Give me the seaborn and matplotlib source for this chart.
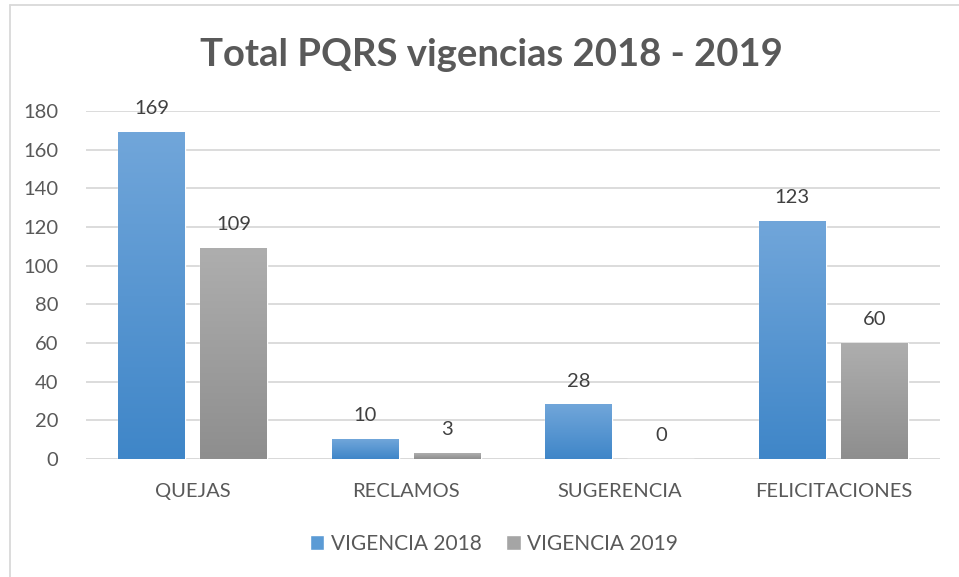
import numpy as np
import pandas as pd
import seaborn as sns
import matplotlib.pyplot as plt
from matplotlib.colors import LinearSegmentedColormap
from matplotlib.patches import Rectangle

categories = ["QUEJAS", "RECLAMOS", "SUGERENCIA", "FELICITACIONES"]
series = ["VIGENCIA 2018", "VIGENCIA 2019"]
values_2018 = [169, 10, 28, 123]
values_2019 = [109, 3, 0, 60]
yticks = [0, 20, 40, 60, 80, 100, 120, 140, 160, 180]

df = pd.DataFrame({
    "categoria": categories * 2,
    "vigencia": [series[0]] * 4 + [series[1]] * 4,
    "valor": values_2018 + values_2019,
})

sns.set_theme(style="white")
plt.rcParams['font.family'] = ['Lato', 'DejaVu Sans']
text_color = "#595959"

palette = {series[0]: "#5B9BD5", series[1]: "#A5A5A5"}
gradients = {
    series[0]: ("#3F86C8", "#71A6DA"),
    series[1]: ("#8E8E8E", "#AEAEAE"),
}

fig = plt.figure(figsize=(9.59, 5.77), dpi=100)
ax = fig.add_axes([0.0897, 0.2045, 0.8905, 0.6031])

sns.barplot(data=df, x="categoria", y="valor", hue="vigencia", order=categories,
            hue_order=series, palette=palette, width=0.768, gap=0.185,
            legend=False, ax=ax, zorder=3)

# gradient fill on each bar (Excel style)
grad = np.linspace(0, 1, 256).reshape(-1, 1)
for cont, name in zip(ax.containers, series):
    cmap = LinearSegmentedColormap.from_list(name, list(gradients[name]))
    for bar in cont:
        x0, y0 = bar.get_x(), bar.get_y()
        w, h = bar.get_width(), bar.get_height()
        if h <= 0:
            continue
        # soft shadow
        ax.add_patch(Rectangle((x0 + 0.006, y0 - 0.6), w, h, facecolor="#000000",
                               alpha=0.12, edgecolor="none", zorder=2.5))
        ax.imshow(grad, extent=(x0, x0 + w, y0, y0 + h), origin="lower",
                  cmap=cmap, aspect="auto", zorder=3.5)
    ax.bar_label(cont, fmt="%d", padding=11, fontsize=14.5, color="#404040")

ax.set_ylim(0, 180)
ax.set_xlim(-0.5, 3.5)

ax.set_yticks(yticks)
ax.yaxis.grid(True, color="#D9D9D9", linewidth=1.3, zorder=0)
ax.set_axisbelow(True)
sns.despine(ax=ax, left=True, bottom=True, top=True, right=True)
ax.axhline(0, color="#D9D9D9", linewidth=1.3, zorder=1)
ax.tick_params(axis="both", length=0, labelsize=14.5, labelcolor=text_color)
ax.tick_params(axis="y", pad=20)
ax.tick_params(axis="x", pad=17)
ax.set_xlabel("")
ax.set_ylabel("")

fig.text(0.512, 0.905, "Total PQRS vigencias 2018 - 2019", ha="center", va="center",
         fontsize=27.5, fontweight="bold", color=text_color)

handles = [Rectangle((0, 0), 1, 1, facecolor=palette[s]) for s in series]
fig.legend(handles, series, loc="center", bbox_to_anchor=(0.515, 0.058), ncol=2,
           frameon=False, fontsize=15, labelcolor=text_color, handlelength=0.7,
           handleheight=0.7, handletextpad=0.3, columnspacing=1.2)

# chart area border
fig.add_artist(plt.Line2D([0.0104, 0.0104], [0, 0.9913], color="#D9D9D9",
                          linewidth=1.3, transform=fig.transFigure))
fig.add_artist(plt.Line2D([0.0104, 1.0], [0.9913, 0.9913], color="#D9D9D9",
                          linewidth=1.3, transform=fig.transFigure))

fig.savefig("out.png", dpi=100)
